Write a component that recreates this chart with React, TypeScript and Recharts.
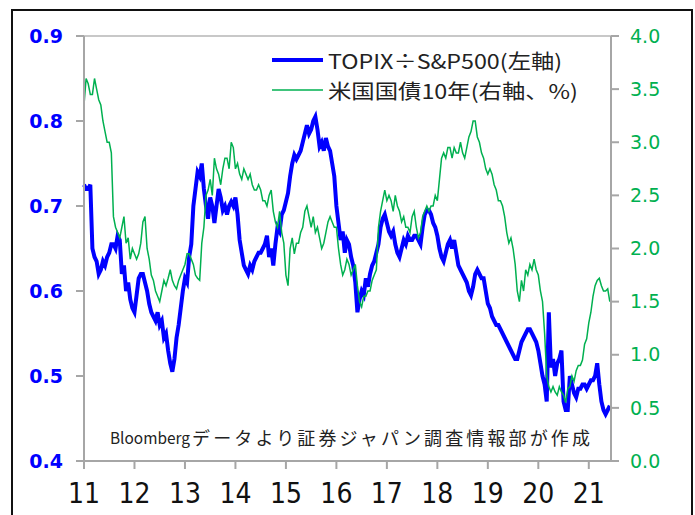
import {
  Legend,
  Line,
  LineChart,
  ReferenceLine,
  XAxis,
  YAxis,
} from "recharts";

// twice a month, Jan 2011 .. Jun 2021 (one row per year)
const topixSp = [
  0.725, 0.72, 0.72, 0.725, 0.65, 0.64, 0.635, 0.62, 0.625, 0.635, 0.63, 0.64, 0.645, 0.655, 0.655, 0.65, 0.665, 0.66, 0.62, 0.63, 0.6, 0.61, 0.59, 0.58,
  0.575, 0.595, 0.615, 0.62, 0.62, 0.61, 0.6, 0.585, 0.575, 0.57, 0.565, 0.575, 0.56, 0.565, 0.545, 0.55, 0.53, 0.515, 0.505, 0.52, 0.545, 0.56, 0.58, 0.6,
  0.615, 0.61, 0.64, 0.655, 0.7, 0.72, 0.74, 0.735, 0.75, 0.72, 0.7, 0.685, 0.71, 0.7, 0.68, 0.7, 0.72, 0.71, 0.695, 0.7, 0.69, 0.7, 0.705, 0.7,
  0.71, 0.69, 0.66, 0.645, 0.63, 0.625, 0.62, 0.63, 0.625, 0.635, 0.64, 0.645, 0.645, 0.65, 0.655, 0.665, 0.64, 0.65, 0.63, 0.655, 0.675, 0.67, 0.69, 0.695,
  0.705, 0.715, 0.735, 0.75, 0.76, 0.755, 0.76, 0.765, 0.775, 0.785, 0.795, 0.785, 0.79, 0.8, 0.805, 0.79, 0.77, 0.775, 0.765, 0.78, 0.77, 0.765, 0.75, 0.735,
  0.7, 0.68, 0.66, 0.67, 0.645, 0.66, 0.655, 0.64, 0.63, 0.61, 0.575, 0.59, 0.6, 0.595, 0.615, 0.605, 0.62, 0.63, 0.635, 0.645, 0.655, 0.675, 0.685, 0.69,
  0.68, 0.67, 0.665, 0.67, 0.655, 0.645, 0.64, 0.65, 0.66, 0.655, 0.665, 0.66, 0.66, 0.665, 0.665, 0.66, 0.655, 0.675, 0.69, 0.695, 0.695, 0.69, 0.68, 0.675,
  0.665, 0.65, 0.64, 0.635, 0.645, 0.655, 0.66, 0.65, 0.66, 0.645, 0.63, 0.625, 0.62, 0.615, 0.61, 0.6, 0.595, 0.605, 0.62, 0.625, 0.62, 0.615, 0.615, 0.6,
  0.585, 0.58, 0.57, 0.565, 0.56, 0.56, 0.555, 0.55, 0.545, 0.54, 0.535, 0.53, 0.525, 0.52, 0.52, 0.53, 0.54, 0.545, 0.55, 0.555, 0.555, 0.55, 0.545, 0.54,
  0.53, 0.515, 0.5, 0.49, 0.47, 0.575, 0.51, 0.52, 0.5, 0.515, 0.52, 0.53, 0.47, 0.46, 0.46, 0.5, 0.49, 0.48, 0.475, 0.485, 0.485, 0.49, 0.49, 0.485,
  0.49, 0.495, 0.495, 0.5, 0.515, 0.49, 0.47, 0.46, 0.455, 0.46, 0.465,
];

const ust10y = [
  3.35, 3.6, 3.55, 3.45, 3.45, 3.6, 3.5, 3.4, 3.35, 3.2, 3.1, 3.0, 3.0, 2.9, 2.3, 2.2, 2.15, 2.1, 2.2, 2.3, 2.05, 2.1, 1.9, 2.0,
  1.95, 1.9, 1.95, 2.05, 2.25, 2.3, 2.0, 1.9, 1.75, 1.7, 1.6, 1.55, 1.5, 1.6, 1.7, 1.65, 1.72, 1.8, 1.7, 1.65, 1.62, 1.7, 1.75, 1.8,
  1.85, 1.95, 1.95, 1.9, 1.85, 1.75, 1.72, 1.7, 2.05, 2.2, 2.5, 2.55, 2.65, 2.5, 2.85, 2.75, 2.7, 2.6, 2.75, 2.85, 2.85, 2.75, 3.0, 2.95,
  2.75, 2.8, 2.7, 2.65, 2.75, 2.7, 2.65, 2.7, 2.6, 2.55, 2.55, 2.6, 2.55, 2.45, 2.45, 2.4, 2.5, 2.55, 2.35, 2.25, 2.2, 2.35, 2.15, 2.05,
  1.75, 1.65, 2.0, 2.1, 1.95, 2.05, 2.05, 2.15, 2.2, 2.35, 2.4, 2.3, 2.2, 2.3, 2.15, 2.2, 2.1, 2.0, 2.05, 2.15, 2.25, 2.3, 2.25, 2.2,
  2.2, 2.0, 1.85, 1.75, 1.8, 1.9, 1.85, 1.75, 1.8, 1.85, 1.65, 1.5, 1.45, 1.55, 1.55, 1.6, 1.6, 1.7, 1.75, 1.8, 2.2, 2.35, 2.45, 2.55,
  2.45, 2.5, 2.45, 2.35, 2.5, 2.4, 2.35, 2.25, 2.3, 2.2, 2.2, 2.15, 2.3, 2.35, 2.2, 2.1, 2.15, 2.3, 2.35, 2.4, 2.35, 2.4, 2.4, 2.5,
  2.45, 2.65, 2.85, 2.9, 2.85, 2.95, 2.95, 2.85, 2.95, 2.9, 2.9, 3.0, 2.9, 2.85, 2.95, 3.05, 3.1, 3.2, 3.2, 3.05, 3.0, 2.9, 2.85, 2.75,
  2.7, 2.75, 2.7, 2.6, 2.55, 2.45, 2.45, 2.4, 2.3, 2.15, 2.05, 2.1, 2.0, 1.85, 1.6, 1.5, 1.7, 1.6, 1.8, 1.75, 1.85, 1.8, 1.9, 1.8,
  1.75, 1.6, 1.5, 1.2, 0.8, 0.7, 0.65, 0.7, 0.65, 0.62, 0.7, 0.65, 0.62, 0.55, 0.68, 0.7, 0.8, 0.75, 0.85, 0.9, 0.9, 0.95, 1.1, 1.15,
  1.3, 1.4, 1.55, 1.65, 1.7, 1.72, 1.65, 1.6, 1.6, 1.62, 1.5,
];

const years = [2011, 2012, 2013, 2014, 2015, 2016, 2017, 2018, 2019, 2020, 2021];
const yearLabels = ["11", "12", "13", "14", "15", "16", "17", "18", "19", "20", "21"];
const leftTicks = [0.4, 0.5, 0.6, 0.7, 0.8, 0.9];
const rightTicks = [0, 0.5, 1, 1.5, 2, 2.5, 3, 3.5, 4];

const legendNames = ["TOPIX÷S&P500(左軸)", "米国国債10年(右軸、%)"];
const sourceLatin = "Bloomberg";
const sourceJp = "データより証券ジャパン調査情報部が作成";

const BLUE = "#0000ff";
const GREEN = "#00b050";
const AXIS = "#a6a6a6";
const JP = '"Noto Sans CJK JP", sans-serif';

const data = topixSp.map((v, i) => ({
  t: 2011 + i / 24,
  topix: v,
  ust: ust10y[i],
}));

const Overlay = () => (
  <svg width={695} height={515} style={{ position: "absolute", left: 0, top: 0 }}>
    <line x1={272} x2={323} y1={60} y2={60} stroke={BLUE} strokeWidth={4} />
    <text x={328} y={60} dominantBaseline="central" fontFamily={JP} fontSize={20}
      textLength={234} lengthAdjust="spacingAndGlyphs" fill="#222">
      {legendNames[0]}
    </text>
    <line x1={272} x2={323} y1={90} y2={90} stroke={GREEN} strokeWidth={1.5} />
    <text x={328} y={90} dominantBaseline="central" fontFamily={JP} fontSize={20}
      textLength={250} lengthAdjust="spacingAndGlyphs" fill="#222">
      {legendNames[1]}
    </text>
    <text x={110} y={437} dominantBaseline="central" fontFamily={JP} fontSize={16}
      textLength={80} lengthAdjust="spacingAndGlyphs" fill="#222">
      {sourceLatin}
    </text>
    <text x={192} y={437} dominantBaseline="central" fontFamily={JP} fontSize={18}
      textLength={398} lengthAdjust="spacing" fill="#222">
      {sourceJp}
    </text>
  </svg>
);

export default function App() {
  return (
    <div style={{ position: "absolute", left: 0, top: 0, width: 695, height: 515, overflow: "hidden", background: "#fff" }}>
      <div style={{ position: "absolute", left: 11, top: 9, width: 678, height: 600, border: "2px solid #111" }} />
      <LineChart width={695} height={515} data={data}
        margin={{ top: 36, right: 0, bottom: 0, left: 0 }}>
        <XAxis dataKey="t" type="number" domain={[2011, 2021.44]} ticks={years}
          tickFormatter={(v) => yearLabels[years.indexOf(v)]}
          height={54} tickSize={8} tickMargin={14} stroke={AXIS} strokeWidth={2}
          tick={{ fill: "#111", fontSize: 28, fontFamily: '"Liberation Sans Narrow", "DejaVu Sans Condensed", sans-serif' }} />
        <YAxis yAxisId="left" domain={[0.4, 0.9]} ticks={leftTicks} width={84}
          tickFormatter={(v) => v.toFixed(1)} tickSize={8} tickMargin={13}
          stroke={AXIS} strokeWidth={2} allowDataOverflow
          tick={{ fill: BLUE, fontSize: 19, fontWeight: "bold", fontFamily: "DejaVu Sans" }} />
        <YAxis yAxisId="right" orientation="right" domain={[0, 4]} ticks={rightTicks}
          width={84} tickFormatter={(v) => v.toFixed(1)} tickSize={8} tickMargin={11}
          stroke={AXIS} strokeWidth={2} allowDataOverflow
          tick={{ fill: GREEN, fontSize: 19, fontFamily: "DejaVu Sans" }} />
        <ReferenceLine yAxisId="left" y={0.9} stroke="#c8c8c8" strokeWidth={2} />
        <Line yAxisId="left" dataKey="topix" stroke={BLUE} strokeWidth={4}
          dot={false} isAnimationActive={false} />
        <Line yAxisId="right" dataKey="ust" stroke={GREEN} strokeWidth={1.5}
          dot={false} isAnimationActive={false} />
        <Legend content={() => <Overlay />} verticalAlign="middle" align="center"
          wrapperStyle={{ left: 0, top: 0, width: 695, height: 515 }} />
      </LineChart>
    </div>
  );
}
